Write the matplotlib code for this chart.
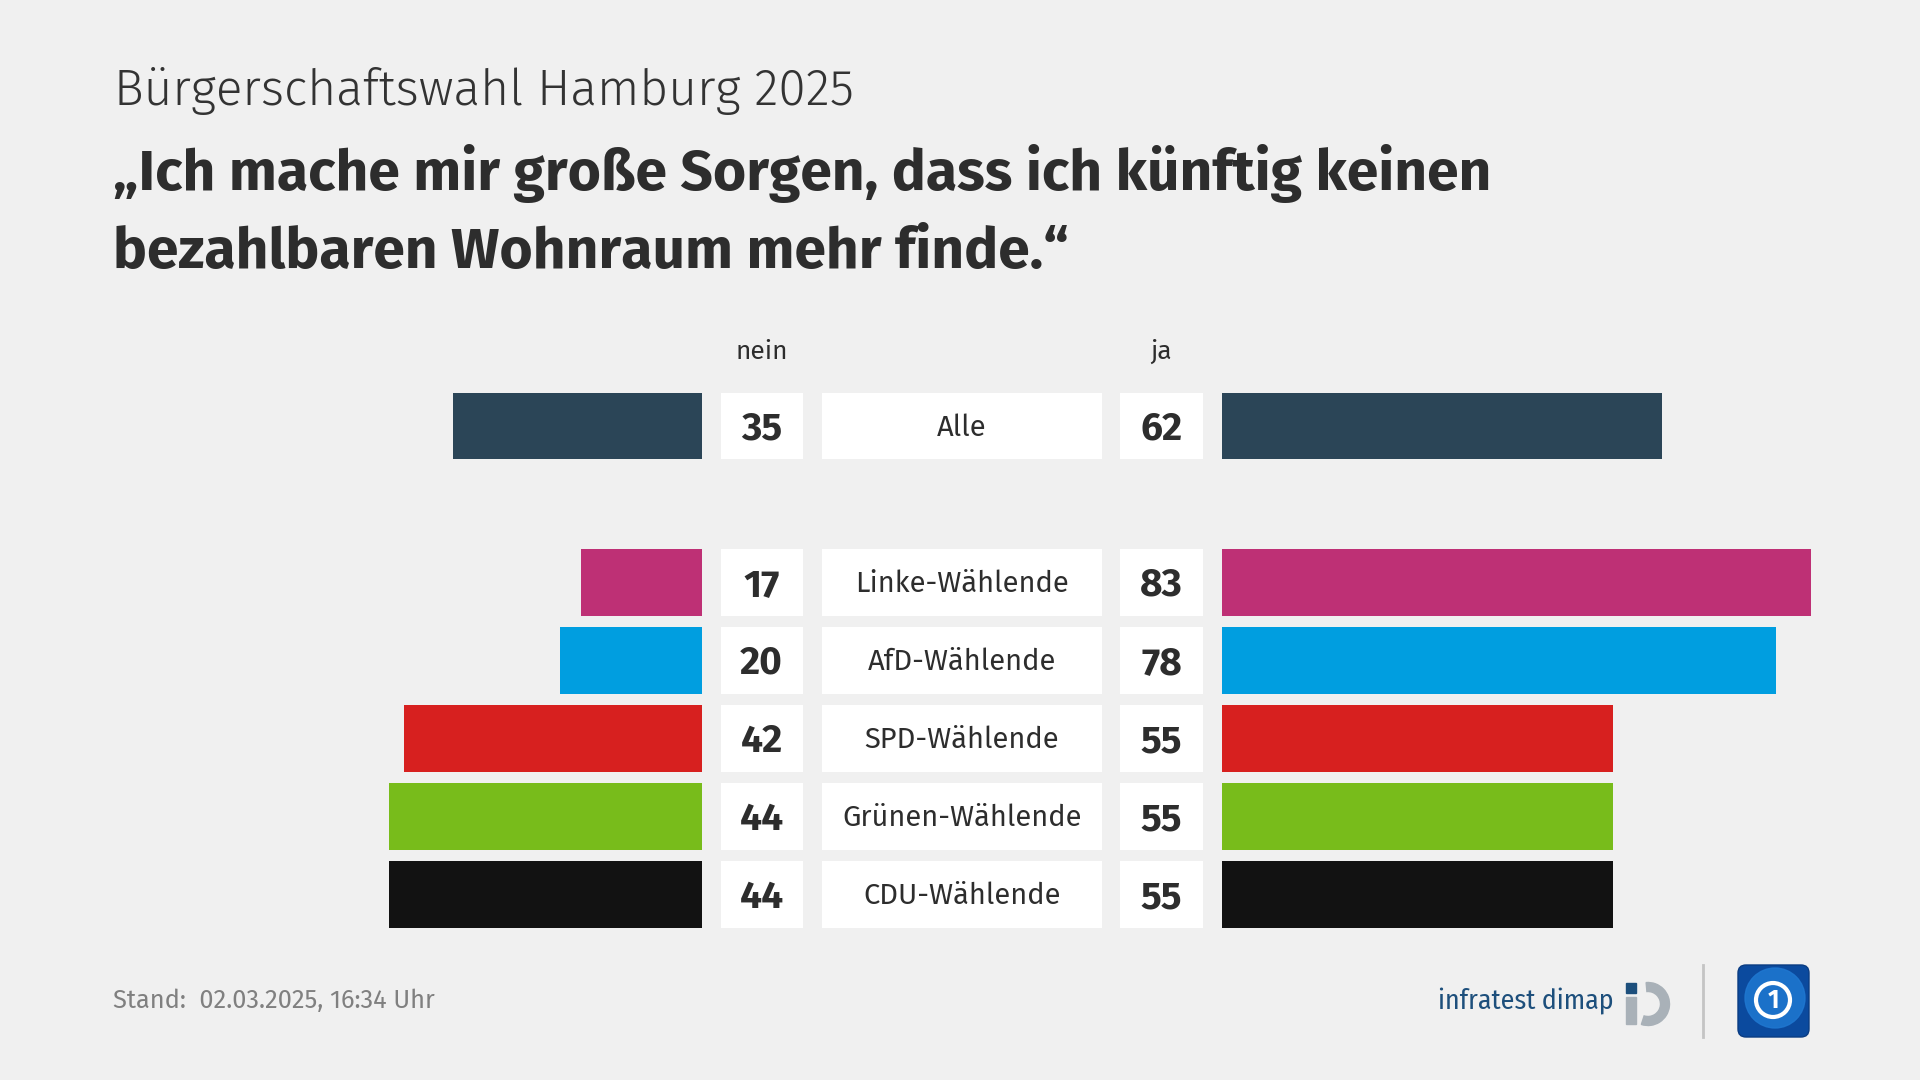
import matplotlib
matplotlib.use("Agg")
import matplotlib.pyplot as plt
from matplotlib.patches import Rectangle, Wedge, FancyBboxPatch, Circle

W, H = 1920, 1080
BG = "#f0f0f0"
INK = "#2d2d2d"
GREY = "#808080"
FONT = ["Fira Sans", "DejaVu Sans"]

plt.rcParams["font.family"] = FONT

# ---- data ----
groups = ["Alle", "Linke-Wählende", "AfD-Wählende", "SPD-Wählende",
          "Grünen-Wählende", "CDU-Wählende"]
nein = [35, 17, 20, 42, 44, 44]
ja = [62, 83, 78, 55, 55, 55]
slots = [0, 2, 3, 4, 5, 6]   # gap row after "Alle"
colors = ["#2b4557", "#be3075", "#009ee0", "#d7201f", "#78bc1b", "#121212"]

# ---- geometry (pixels) ----
PX_PER_PT = 7.1
ROW0_Y = 426.0
PITCH = 78.1
BAR_H = 0.853
Y_TOP = ROW0_Y - 0.5 * PITCH
Y_BOT = ROW0_Y + 6.5 * PITCH
L_ZERO, R_ZERO = 701.7, 1222.0
L_MAX, R_MAX = 60, 90


def add_ax(x0, x1, y0=Y_TOP, y1=Y_BOT):
    ax = fig.add_axes([x0 / W, 1 - y1 / H, (x1 - x0) / W, (y1 - y0) / H])
    ax.set_facecolor("none")
    ax.axis("off")
    ax.set_ylim(6.5, -0.5)
    return ax


fig = plt.figure(figsize=(19.2, 10.8), dpi=100, facecolor=BG)

# left bars (nein)
axl = add_ax(L_ZERO - PX_PER_PT * L_MAX, L_ZERO)
axl.barh(slots, nein, height=BAR_H, color=colors)
axl.set_xlim(L_MAX, 0)

# right bars (ja)
axr = add_ax(R_ZERO, R_ZERO + PX_PER_PT * R_MAX)
axr.barh(slots, ja, height=BAR_H, color=colors)
axr.set_xlim(0, R_MAX)

# centre boxes: value / label / value
axc = add_ax(720.7, 1202.7)
axc.set_xlim(0, 482)
axc.barh(slots, 82, left=0, height=BAR_H, color="white")
axc.barh(slots, 280, left=101.3, height=BAR_H, color="white")
axc.barh(slots, 82.7, left=399.3, height=BAR_H, color="white")
for s, g, n, j in zip(slots, groups, nein, ja):
    axc.text(41, s + 0.175, f"{n}", ha="center", va="baseline",
             fontsize=28, fontweight="bold", color=INK)
    axc.text(241.3, s + 0.125, g, ha="center", va="baseline",
             fontsize=21, color=INK)
    axc.text(440.7, s + 0.175, f"{j}", ha="center", va="baseline",
             fontsize=28, fontweight="bold", color=INK)
axc.text(41, (359 - ROW0_Y) / PITCH, "nein", ha="center", va="baseline",
         fontsize=19, color=INK, clip_on=False)
axc.text(440.7, (359 - ROW0_Y) / PITCH, "ja", ha="center", va="baseline",
         fontsize=19, color=INK, clip_on=False)

# ---- titles ----
fig.text(114 / W, 1 - 105 / H, "Bürgerschaftswahl Hamburg 2025",
         fontsize=35.8, fontweight=300, color="#333333", va="baseline")
fig.text(113 / W, 1 - 190 / H, "„Ich mache mir große Sorgen, dass ich künftig keinen",
         fontsize=41, fontweight="bold", color=INK, va="baseline")
fig.text(113 / W, 1 - 268 / H, "bezahlbaren Wohnraum mehr finde.“",
         fontsize=41, fontweight="bold", color=INK, va="baseline")

# ---- footer ----
fig.text(113 / W, 1 - 1008 / H, "Stand:  02.03.2025, 16:34 Uhr",
         fontsize=18.3, color=GREY, va="baseline")

# logos drawn in a pixel-space overlay
axo = fig.add_axes([0, 0, 1, 1])
axo.set_xlim(0, W)
axo.set_ylim(H, 0)
axo.axis("off")
axo.set_facecolor("none")
axo.text(1438, 1009, "infratest dimap", fontsize=20, color="#1d4f7c",
         va="baseline", ha="left", family=["Fira Sans Condensed", "DejaVu Sans"])
axo.add_patch(Rectangle((1626, 983), 10, 10, color="#1d4f7c"))
axo.add_patch(Rectangle((1626, 997), 10, 27, color="#a9b1b8"))
axo.add_patch(Wedge((1648, 1004), 21.5, -95, 108, width=9, color="#a9b1b8"))
axo.plot([1703, 1703], [965, 1037], color="#c4c4c4", lw=2)
axo.add_patch(FancyBboxPatch((1741, 968), 65, 66, boxstyle="round,pad=3,rounding_size=8",
                             fc="#0b4a9e", ec="#0a3c82", lw=1))
axo.add_patch(Circle((1775, 998), 30, color="#1f78d1", alpha=0.85))
axo.add_patch(Circle((1773, 1000), 17, fc="none", ec="white", lw=3))
axo.text(1773, 1001, "1", color="white", fontsize=18, fontweight="bold",
         ha="center", va="center")

fig.savefig("out.png", dpi=100, facecolor=BG)
